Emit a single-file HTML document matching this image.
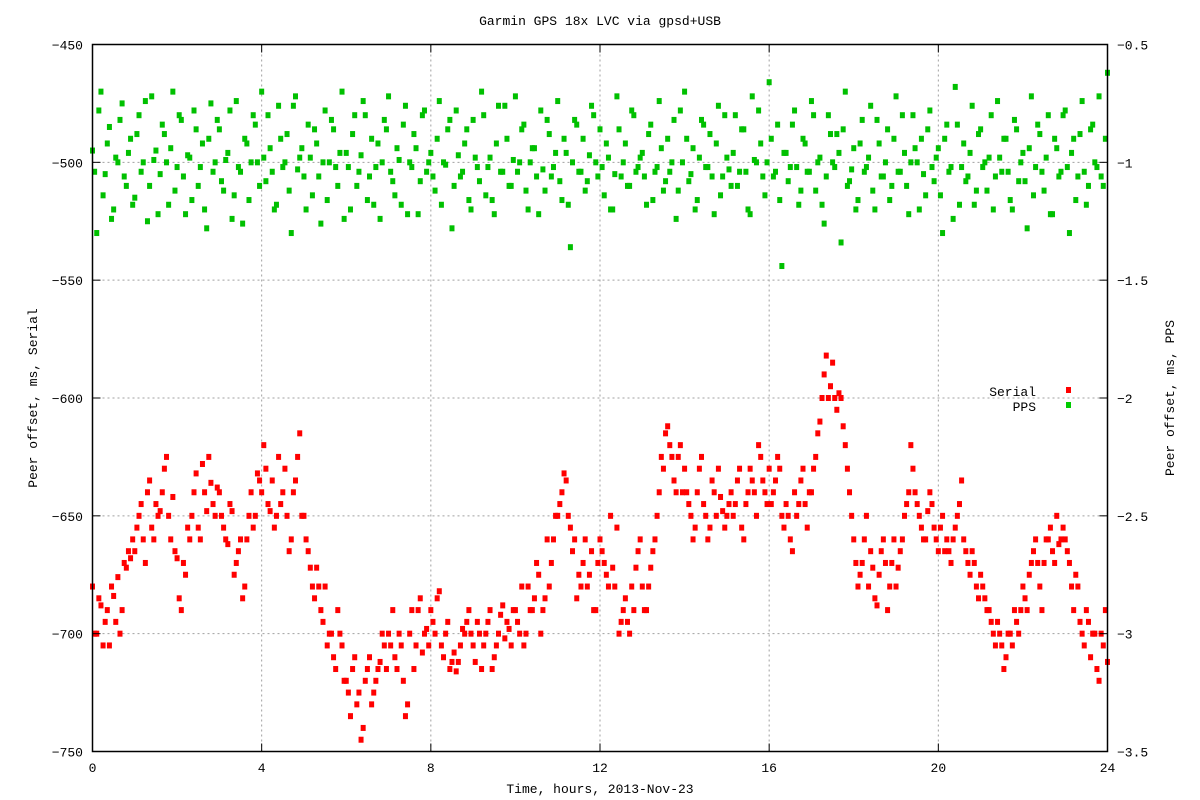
<!DOCTYPE html>
<html><head><meta charset="utf-8">
<style>
body{margin:0;background:#fff;}
svg{display:block;font-family:"Liberation Mono","DejaVu Sans Mono",monospace;font-size:13px;}
</style></head><body>
<svg id="chart" width="1200" height="800" xmlns="http://www.w3.org/2000/svg">
<rect width="1200" height="800" fill="#fff"/>
<g id="grid"></g>
<g id="marks"></g>
<rect x="92.5" y="44.5" width="1015" height="707" fill="none" stroke="#000" stroke-width="1.5"/>
<g id="axes"></g>
<text x="600" y="25" text-anchor="middle">Garmin GPS 18x LVC via gpsd+USB</text>
<text x="600" y="793" text-anchor="middle">Time, hours, 2013-Nov-23</text>
<text transform="translate(37,398) rotate(-90)" text-anchor="middle">Peer offset, ms, Serial</text>
<text transform="translate(1174,398) rotate(-90)" text-anchor="middle">Peer offset, ms, PPS</text>
<g>
<text x="1036" y="396" text-anchor="end">Serial</text>
<rect x="1066" y="387" width="5" height="6" fill="#f00"/>
<text x="1036" y="411" text-anchor="end">PPS</text>
<rect x="1066" y="402" width="5" height="6" fill="#0c0"/>
</g>
</svg>
<script>
const xTicks=[0,4,8,12,16,20,24];
const yLeftTicks=[-450,-500,-550,-600,-650,-700,-750];
const yRightTicks=[-0.5,-1,-1.5,-2,-2.5,-3,-3.5];
const timeStep=0.1;
const serial=[
-680,-700,-688,-695,-705,-684,-676,-690,-672,-668,
-665,-650,-660,-640,-655,-645,-648,-630,-650,-642,
-668,-690,-675,-660,-640,-655,-628,-648,-636,-650,
-640,-655,-662,-648,-670,-660,-680,-650,-655,-632,
-640,-630,-648,-655,-625,-640,-650,-660,-635,-615,
-650,-665,-680,-672,-690,-680,-700,-710,-690,-705,
-720,-735,-710,-725,-740,-715,-730,-720,-712,-705,
-700,-690,-715,-705,-735,-700,-715,-690,-708,-698,
-690,-700,-682,-710,-695,-712,-716,-705,-700,-690,
-705,-695,-715,-700,-690,-710,-700,-688,-695,-705,
-690,-700,-705,-680,-690,-670,-700,-685,-680,-660,
-650,-640,-635,-655,-660,-675,-670,-680,-665,-690,
-660,-670,-680,-672,-655,-695,-685,-700,-690,-665,
-680,-690,-672,-660,-640,-630,-612,-625,-640,-620,
-630,-645,-660,-640,-625,-650,-655,-640,-630,-648,
-650,-640,-645,-630,-660,-640,-635,-650,-625,-640,
-630,-640,-625,-650,-645,-660,-640,-645,-630,-655,
-640,-625,-610,-590,-600,-585,-605,-600,-620,-640,
-660,-680,-670,-650,-665,-685,-675,-660,-690,-670,
-680,-665,-650,-640,-630,-645,-655,-660,-640,-655,
-665,-650,-660,-670,-655,-645,-660,-670,-665,-680,
-675,-685,-690,-700,-695,-705,-710,-700,-690,-700,
-680,-690,-670,-660,-680,-670,-660,-665,-650,-660,
-660,-670,-690,-680,-700,-690,-710,-700,-720,-705,
-712];
const serialHalf=[
-700,-685,-705,-690,-680,-695,-700,-670,-665,-660,
-655,-645,-670,-635,-660,-650,-640,-625,-660,-665,
-685,-670,-655,-650,-632,-660,-640,-625,-645,-638,
-650,-660,-645,-675,-665,-685,-660,-640,-650,-635,
-620,-645,-635,-650,-645,-630,-665,-640,-625,-650,
-660,-672,-685,-680,-695,-705,-700,-715,-700,-720,
-725,-715,-730,-745,-720,-710,-725,-715,-700,-715,
-705,-710,-700,-720,-730,-690,-705,-685,-700,-705,
-695,-685,-705,-700,-715,-708,-712,-698,-695,-700,
-712,-700,-705,-695,-715,-705,-692,-702,-698,-690,
-695,-680,-700,-690,-685,-675,-690,-660,-670,-650,
-645,-632,-650,-665,-685,-680,-660,-675,-690,-670,
-665,-675,-650,-680,-700,-690,-695,-680,-672,-660,
-690,-680,-665,-650,-625,-615,-620,-635,-625,-640,
-640,-650,-655,-630,-645,-660,-635,-650,-642,-655,
-645,-650,-635,-655,-645,-630,-640,-620,-635,-645,
-645,-635,-630,-655,-650,-665,-650,-635,-645,-640,
-630,-615,-600,-582,-595,-600,-598,-612,-630,-650,
-670,-675,-660,-680,-672,-688,-665,-670,-680,-660,
-672,-660,-645,-620,-640,-650,-660,-648,-645,-660,
-655,-665,-665,-660,-650,-635,-665,-675,-670,-685,
-680,-690,-695,-705,-700,-715,-700,-705,-695,-690,
-685,-675,-665,-670,-690,-660,-655,-670,-662,-655,
-665,-680,-675,-695,-705,-695,-700,-715,-700,-690];
const pps=[
-0.95,-1.3,-0.7,-1.05,-0.85,-1.2,-1.0,-0.75,-1.1,-0.9,
-1.15,-0.8,-1.0,-1.25,-0.72,-0.95,-1.05,-0.88,-1.18,-0.7,
-1.02,-0.82,-1.22,-0.98,-0.78,-1.1,-0.92,-1.28,-0.75,-1.0,
-0.86,-1.12,-0.96,-1.24,-0.74,-1.04,-0.9,-1.16,-0.8,-1.0,
-0.7,-1.08,-0.94,-1.2,-0.76,-1.02,-0.88,-1.3,-0.72,-0.98,
-1.06,-0.84,-1.14,-0.92,-1.26,-0.78,-1.0,-0.86,-1.1,-0.7,
-0.96,-1.2,-0.8,-1.04,-0.74,-1.16,-0.9,-1.02,-1.24,-0.82,
-0.72,-1.08,-0.94,-1.18,-0.76,-1.0,-0.88,-1.22,-0.8,-1.04,
-0.96,-1.12,-0.74,-1.0,-0.86,-1.28,-0.78,-1.06,-0.92,-1.16,
-0.82,-1.02,-0.7,-1.14,-0.98,-1.22,-0.76,-1.04,-0.9,-1.1,
-0.72,-1.0,-0.84,-1.2,-0.94,-1.06,-0.78,-1.12,-0.88,-1.02,
-0.74,-1.16,-0.96,-1.36,-0.82,-1.04,-0.9,-1.08,-0.76,-1.0,
-0.86,-1.14,-0.98,-1.2,-0.72,-1.06,-0.92,-1.1,-0.8,-1.02,
-0.96,-1.18,-0.84,-1.04,-0.74,-1.12,-0.9,-1.0,-1.24,-0.78,
-0.7,-1.08,-0.94,-1.16,-0.82,-1.02,-0.88,-1.22,-0.76,-1.06,
-0.98,-1.1,-0.8,-1.04,-0.86,-1.2,-0.72,-1.0,-0.92,-1.14,
-0.66,-1.06,-0.84,-1.44,-0.96,-1.02,-0.78,-1.18,-0.9,-1.04,
-0.74,-1.12,-0.98,-1.26,-0.8,-1.0,-0.88,-1.34,-0.7,-1.08,
-0.94,-1.16,-0.82,-1.02,-0.76,-1.2,-0.92,-1.06,-0.86,-1.1,
-0.72,-1.04,-0.96,-1.22,-0.8,-1.0,-0.9,-1.14,-0.78,-1.08,
-0.94,-1.3,-0.84,-1.02,-0.68,-1.18,-0.92,-1.06,-0.76,-1.12,
-0.86,-1.0,-0.98,-1.2,-0.74,-1.04,-0.9,-1.16,-0.82,-1.08,
-0.96,-1.28,-0.72,-1.02,-0.88,-1.12,-0.8,-1.22,-0.94,-1.04,
-0.78,-1.3,-0.9,-1.06,-0.74,-1.18,-0.86,-1.0,-0.72,-1.1,
-0.62];
const ppsHalf=[
-1.04,-0.78,-1.14,-0.92,-1.24,-0.98,-0.82,-1.06,-0.96,-1.18,
-0.88,-1.04,-0.74,-1.1,-0.99,-1.22,-0.84,-1.0,-0.94,-1.12,
-0.8,-1.06,-0.97,-1.16,-0.86,-1.02,-1.2,-0.9,-1.04,-0.82,
-1.08,-0.99,-0.78,-1.14,-1.02,-1.26,-0.92,-1.0,-0.84,-1.1,
-0.98,-0.8,-1.04,-1.18,-0.9,-1.0,-1.12,-0.76,-1.03,-0.94,
-1.2,-0.98,-0.86,-1.06,-1.0,-1.16,-0.82,-1.02,-0.96,-1.24,
-1.02,-0.88,-1.1,-0.97,-0.8,-1.06,-1.18,-0.92,-1.0,-0.86,
-1.04,-1.14,-0.99,-0.84,-1.22,-1.02,-0.94,-1.08,-0.78,-1.0,
-1.06,-0.9,-1.18,-1.01,-0.82,-1.1,-0.97,-1.04,-0.86,-1.2,
-0.98,-1.08,-0.8,-1.02,-1.16,-0.92,-1.04,-0.76,-1.1,-0.99,
-1.04,-0.86,-1.12,-1.0,-0.94,-1.22,-1.03,-0.82,-1.06,-0.96,
-1.08,-0.9,-1.18,-1.0,-0.84,-1.04,-1.12,-0.97,-0.8,-1.06,
-1.02,-0.92,-1.2,-1.05,-0.86,-1.0,-1.1,-0.78,-1.04,-0.98,
-1.06,-0.88,-1.16,-1.02,-0.94,-1.08,-1.04,-0.82,-1.12,-1.0,
-0.9,-1.05,-1.2,-0.98,-0.84,-1.02,-1.06,-0.92,-1.14,-0.8,
-1.03,-0.96,-1.1,-0.86,-1.04,-1.22,-0.99,-0.78,-1.06,-1.0,
-0.9,-1.04,-1.16,-0.96,-1.08,-0.84,-1.02,-1.12,-0.92,-1.04,
-0.8,-1.0,-1.18,-1.06,-0.88,-1.02,-0.96,-0.86,-1.1,-1.03,
-1.2,-0.92,-1.04,-0.98,-1.12,-0.82,-1.06,-1.0,-1.16,-0.9,
-1.04,-0.8,-1.1,-1.0,-0.94,-1.2,-1.05,-0.86,-1.02,-0.98,
-1.14,-0.9,-1.04,-1.24,-0.84,-1.02,-1.08,-0.96,-1.18,-0.88,
-1.02,-1.12,-0.8,-1.06,-0.98,-0.9,-1.04,-1.2,-0.86,-1.0,
-1.08,-0.94,-1.14,-0.84,-1.04,-0.98,-1.22,-0.9,-1.06,-0.8,
-1.02,-0.96,-1.16,-0.88,-1.04,-1.1,-0.84,-1.02,-1.06,-0.9];
const PL=92.5,PR=1107.5,PT=44.5,PB=751.5;
function xS(t){return PL+(t-0)/(24-0)*(PR-PL);}
function yL(v){return PT+(-450-v)/(300)*(PB-PT);}
function yR(v){return PT+(-0.5-v)/(3)*(PB-PT);}
const NS="http://www.w3.org/2000/svg";
function mk(tag,attrs,parent){const e=document.createElementNS(NS,tag);for(const k in attrs)e.setAttribute(k,attrs[k]);parent.appendChild(e);return e;}
const grid=document.getElementById('grid'),axes=document.getElementById('axes'),marks=document.getElementById('marks');
xTicks.forEach(t=>{const x=xS(t);
 if(t>0&&t<24){const g=mk('line',{x1:x,x2:x,y1:PT,y2:PB,stroke:'#a0a0a0','stroke-dasharray':'2,3'},grid);
 }
 const tk=mk('line',{x1:x,x2:x,y1:PB,y2:PB-8,stroke:'#000'},axes);
 
 const tk2=mk('line',{x1:x,x2:x,y1:PT,y2:PT+8,stroke:'#000'},axes);
 
 const lb=mk('text',{x:x,y:772,'text-anchor':'middle'},axes);lb.textContent=t;
 
});
yLeftTicks.forEach(v=>{const y=yL(v);
 if(v<-450&&v>-750){const g=mk('line',{x1:PL,x2:PR,y1:y,y2:y,stroke:'#a0a0a0','stroke-dasharray':'2,3'},grid);
 }
 const tk=mk('line',{x1:PL,x2:PL+8,y1:y,y2:y,stroke:'#000'},axes);
 
 const lb=mk('text',{x:83,y:y+5,'text-anchor':'end'},axes);lb.textContent=String(v).replace('-','\u2212');
 
});
yRightTicks.forEach(v=>{const y=yR(v);
 const tk=mk('line',{x1:PR,x2:PR-8,y1:y,y2:y,stroke:'#000'},axes);
 
 const lb=mk('text',{x:1117,y:y+5,'text-anchor':'start'},axes);lb.textContent=String(v).replace('-','\u2212');
 
});
function drawPPS(arr,off){arr.forEach((v,i)=>{const r=mk('rect',{x:xS(i*timeStep+off)-2.5,y:yR(v)-3,width:5,height:6,fill:'#00c000'},marks);
 
 });}
function drawSerial(arr,off){arr.forEach((v,i)=>{const r=mk('rect',{x:xS(i*timeStep+off)-2.5,y:yL(v)-3,width:5,height:6,fill:'#ff0000'},marks);
 
 });}
drawPPS(pps,0);drawPPS(ppsHalf,timeStep/2);
drawSerial(serial,0);drawSerial(serialHalf,timeStep/2);
</script>
</body></html>
